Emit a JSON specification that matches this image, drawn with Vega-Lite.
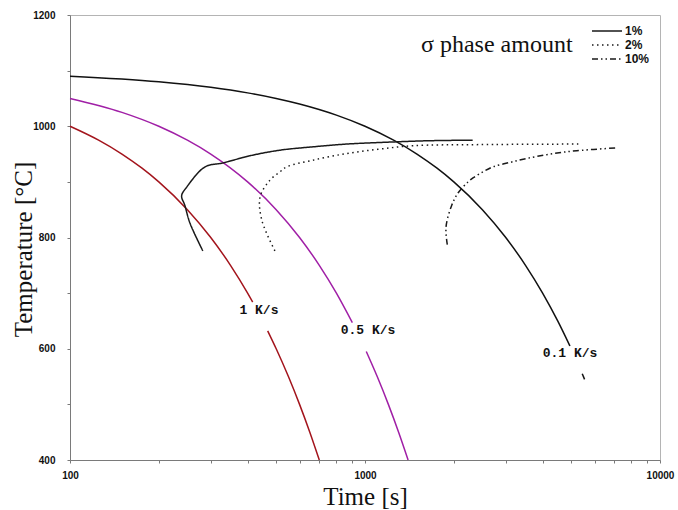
{
  "$schema": "https://vega.github.io/schema/vega-lite/v6.json",
  "width": 590,
  "height": 445,
  "autosize": {"type": "none"},
  "padding": {"left": 70, "top": 15, "right": 18, "bottom": 50},
  "background": "white",
  "config": {
    "view": {"stroke": "#b4b4b4", "strokeWidth": 1},
    "axis": {
      "domainColor": "#7a7a7a",
      "tickColor": "#7a7a7a",
      "grid": false,
      "labelFont": "Liberation Sans",
      "labelFontWeight": "bold",
      "labelFontSize": 10,
      "labelColor": "#111111",
      "titleFont": "Liberation Serif",
      "titleFontWeight": "normal",
      "titleFontSize": 25,
      "titleColor": "#111111"
    }
  },
  "datasets": {
    "cooling": [
      {"curve": "1 K/s", "seg": "a", "t": 100, "T": 1000},
      {"curve": "1 K/s", "seg": "a", "t": 125, "T": 975},
      {"curve": "1 K/s", "seg": "a", "t": 150, "T": 950},
      {"curve": "1 K/s", "seg": "a", "t": 175, "T": 925},
      {"curve": "1 K/s", "seg": "a", "t": 200, "T": 900},
      {"curve": "1 K/s", "seg": "a", "t": 250, "T": 850},
      {"curve": "1 K/s", "seg": "a", "t": 300, "T": 800},
      {"curve": "1 K/s", "seg": "a", "t": 350, "T": 750},
      {"curve": "1 K/s", "seg": "a", "t": 400, "T": 700},
      {"curve": "1 K/s", "seg": "a", "t": 416, "T": 684},
      {"curve": "1 K/s", "seg": "b", "t": 468, "T": 632},
      {"curve": "1 K/s", "seg": "b", "t": 500, "T": 600},
      {"curve": "1 K/s", "seg": "b", "t": 550, "T": 550},
      {"curve": "1 K/s", "seg": "b", "t": 600, "T": 500},
      {"curve": "1 K/s", "seg": "b", "t": 650, "T": 450},
      {"curve": "1 K/s", "seg": "b", "t": 700, "T": 400},
      {"curve": "0.5 K/s", "seg": "a", "t": 100, "T": 1050},
      {"curve": "0.5 K/s", "seg": "a", "t": 150, "T": 1025},
      {"curve": "0.5 K/s", "seg": "a", "t": 200, "T": 1000},
      {"curve": "0.5 K/s", "seg": "a", "t": 250, "T": 975},
      {"curve": "0.5 K/s", "seg": "a", "t": 300, "T": 950},
      {"curve": "0.5 K/s", "seg": "a", "t": 400, "T": 900},
      {"curve": "0.5 K/s", "seg": "a", "t": 500, "T": 850},
      {"curve": "0.5 K/s", "seg": "a", "t": 600, "T": 800},
      {"curve": "0.5 K/s", "seg": "a", "t": 700, "T": 750},
      {"curve": "0.5 K/s", "seg": "a", "t": 800, "T": 700},
      {"curve": "0.5 K/s", "seg": "a", "t": 906, "T": 647},
      {"curve": "0.5 K/s", "seg": "b", "t": 1010, "T": 595},
      {"curve": "0.5 K/s", "seg": "b", "t": 1100, "T": 550},
      {"curve": "0.5 K/s", "seg": "b", "t": 1200, "T": 500},
      {"curve": "0.5 K/s", "seg": "b", "t": 1300, "T": 450},
      {"curve": "0.5 K/s", "seg": "b", "t": 1400, "T": 400},
      {"curve": "0.1 K/s", "seg": "a", "t": 100, "T": 1090},
      {"curve": "0.1 K/s", "seg": "a", "t": 200, "T": 1080},
      {"curve": "0.1 K/s", "seg": "a", "t": 300, "T": 1070},
      {"curve": "0.1 K/s", "seg": "a", "t": 400, "T": 1060},
      {"curve": "0.1 K/s", "seg": "a", "t": 500, "T": 1050},
      {"curve": "0.1 K/s", "seg": "a", "t": 600, "T": 1040},
      {"curve": "0.1 K/s", "seg": "a", "t": 800, "T": 1020},
      {"curve": "0.1 K/s", "seg": "a", "t": 1000, "T": 1000},
      {"curve": "0.1 K/s", "seg": "a", "t": 1250, "T": 975},
      {"curve": "0.1 K/s", "seg": "a", "t": 1500, "T": 950},
      {"curve": "0.1 K/s", "seg": "a", "t": 1750, "T": 925},
      {"curve": "0.1 K/s", "seg": "a", "t": 2000, "T": 900},
      {"curve": "0.1 K/s", "seg": "a", "t": 2500, "T": 850},
      {"curve": "0.1 K/s", "seg": "a", "t": 3000, "T": 800},
      {"curve": "0.1 K/s", "seg": "a", "t": 3500, "T": 750},
      {"curve": "0.1 K/s", "seg": "a", "t": 4000, "T": 700},
      {"curve": "0.1 K/s", "seg": "a", "t": 4500, "T": 650},
      {"curve": "0.1 K/s", "seg": "a", "t": 4950, "T": 605},
      {"curve": "0.1 K/s", "seg": "b", "t": 5450, "T": 555},
      {"curve": "0.1 K/s", "seg": "b", "t": 5550, "T": 545}
    ],
    "sigma": [
      {"amount": "1%", "t": 282, "T": 776},
      {"amount": "1%", "t": 255, "T": 826},
      {"amount": "1%", "t": 245, "T": 858},
      {"amount": "1%", "t": 239, "T": 875},
      {"amount": "1%", "t": 249, "T": 891},
      {"amount": "1%", "t": 287, "T": 927},
      {"amount": "1%", "t": 330, "T": 934},
      {"amount": "1%", "t": 408, "T": 947},
      {"amount": "1%", "t": 515, "T": 957},
      {"amount": "1%", "t": 666, "T": 963},
      {"amount": "1%", "t": 867, "T": 968},
      {"amount": "1%", "t": 1281, "T": 972},
      {"amount": "1%", "t": 1661, "T": 974},
      {"amount": "1%", "t": 2317, "T": 975},
      {"amount": "2%", "t": 495, "T": 776},
      {"amount": "2%", "t": 447, "T": 831},
      {"amount": "2%", "t": 441, "T": 873},
      {"amount": "2%", "t": 476, "T": 903},
      {"amount": "2%", "t": 515, "T": 918},
      {"amount": "2%", "t": 543, "T": 927},
      {"amount": "2%", "t": 666, "T": 939},
      {"amount": "2%", "t": 867, "T": 951},
      {"amount": "2%", "t": 1124, "T": 959},
      {"amount": "2%", "t": 1455, "T": 965},
      {"amount": "2%", "t": 2454, "T": 967},
      {"amount": "2%", "t": 5428, "T": 968},
      {"amount": "10%", "t": 1901, "T": 787},
      {"amount": "10%", "t": 1882, "T": 819},
      {"amount": "10%", "t": 1968, "T": 858},
      {"amount": "10%", "t": 2067, "T": 880},
      {"amount": "10%", "t": 2235, "T": 900},
      {"amount": "10%", "t": 2323, "T": 907},
      {"amount": "10%", "t": 2512, "T": 918},
      {"amount": "10%", "t": 2716, "T": 927},
      {"amount": "10%", "t": 3101, "T": 935},
      {"amount": "10%", "t": 3533, "T": 942},
      {"amount": "10%", "t": 4239, "T": 950},
      {"amount": "10%", "t": 5220, "T": 956},
      {"amount": "10%", "t": 7075, "T": 961}
    ],
    "rateLabels": [
      {"label": "1 K/s", "t": 437, "T": 670},
      {"label": "0.5 K/s", "t": 1024, "T": 634},
      {"label": "0.1 K/s", "t": 4955, "T": 593}
    ]
  },
  "encoding": {
    "x": {
      "field": "t",
      "type": "quantitative",
      "scale": {"type": "log", "domain": [100, 10000], "nice": false},
      "axis": {
        "title": "Time [s]",
        "values": [100, 200, 300, 400, 500, 600, 700, 800, 900, 1000, 2000, 3000, 4000, 5000, 6000, 7000, 8000, 9000, 10000],
        "labelExpr": "indexof([100, 1000, 10000], datum.value) >= 0 ? datum.label : ''",
        "format": "d",
        "tickSize": 3,
        "labelPadding": 7,
        "titlePadding": 4,
        "labelFlush": false,
        "labelOverlap": false
      }
    },
    "y": {
      "field": "T",
      "type": "quantitative",
      "scale": {"domain": [400, 1200], "nice": false, "zero": false},
      "axis": {
        "title": "Temperature [°C]",
        "values": [400, 500, 600, 700, 800, 900, 1000, 1100, 1200],
        "labelExpr": "datum.value % 200 === 0 ? datum.label : ''",
        "format": "d",
        "tickSize": 3,
        "labelPadding": 12,
        "titlePadding": -4,
        "titleY": 234,
        "labelOverlap": false
      }
    }
  },
  "layer": [
    {
      "data": {"name": "cooling"},
      "mark": {"type": "line", "interpolate": "monotone", "strokeWidth": 1.5},
      "encoding": {
        "color": {
          "field": "curve",
          "type": "nominal",
          "scale": {"domain": ["1 K/s", "0.5 K/s", "0.1 K/s"], "range": ["#a3141c", "#a01fa6", "#111111"]},
          "legend": null
        },
        "detail": {"field": "seg"}
      }
    },
    {
      "data": {"name": "sigma"},
      "mark": {"type": "line", "interpolate": "catmull-rom", "strokeWidth": 1.5, "color": "#1a1a1a"},
      "encoding": {
        "order": {"value": null},
        "strokeDash": {
          "field": "amount",
          "type": "nominal",
          "scale": {"domain": ["1%", "2%", "10%"], "range": [[1, 0], [1.5, 3.5], [6, 3, 1.5, 3, 1.5, 3]]},
          "legend": {
            "title": "σ phase amount",
            "orient": "none",
            "legendX": 351,
            "legendY": 10,
            "titleOrient": "left",
            "titleFont": "Liberation Serif",
            "titleFontSize": 24,
            "titleFontWeight": "normal",
            "titleColor": "#111111",
            "titlePadding": 18,
            "titleBaseline": "middle",
            "symbolType": "stroke",
            "symbolSize": 900,
            "symbolStrokeWidth": 1.3,
            "symbolStrokeColor": "#1a1a1a",
            "clipHeight": 12,
            "labelFont": "Liberation Sans",
            "labelFontWeight": "bold",
            "labelFontSize": 12,
            "labelColor": "#111111",
            "labelOffset": 2,
            "rowPadding": 2
          }
        }
      }
    },
    {
      "data": {"name": "rateLabels"},
      "mark": {"type": "text", "font": "Liberation Mono", "fontWeight": "bold", "fontSize": 13, "color": "#111111"},
      "encoding": {
        "text": {"field": "label"}
      }
    }
  ]
}
